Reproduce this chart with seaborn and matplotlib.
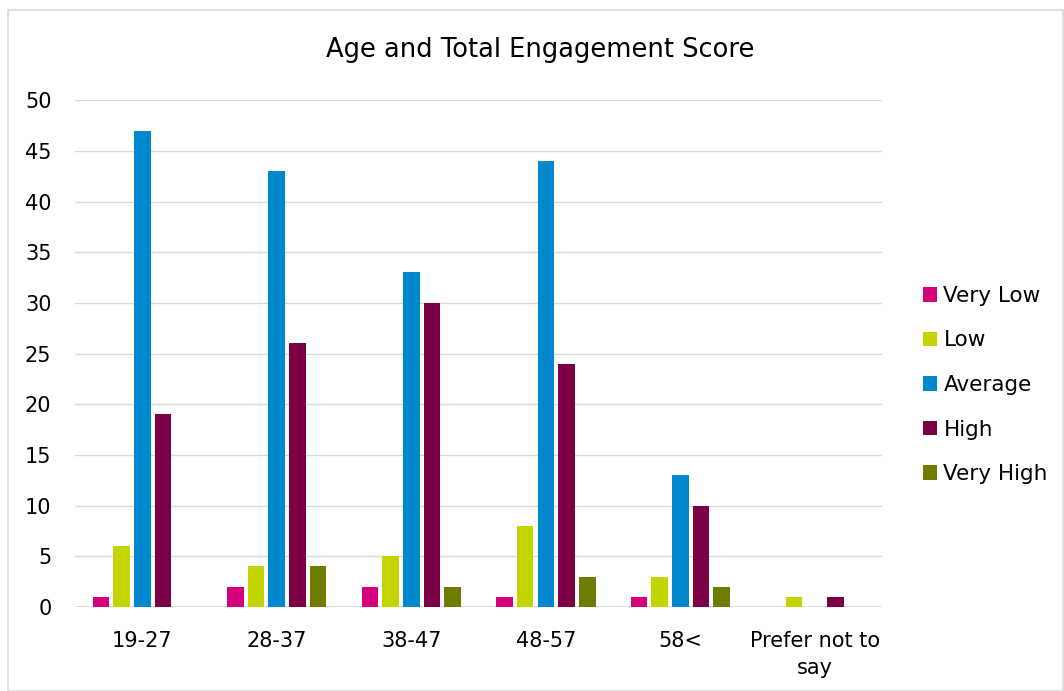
import matplotlib
matplotlib.use("Agg")
import matplotlib.pyplot as plt
import seaborn as sns
import pandas as pd
from matplotlib.patches import Rectangle

# Engagement counts per age band
age_groups = ["19-27", "28-37", "38-47", "48-57", "58<", "Prefer not to\nsay"]
levels = ["Very Low", "Low", "Average", "High", "Very High"]
very_low = [1, 2, 2, 1, 1, 0]
low = [6, 4, 5, 8, 3, 1]
average = [47, 43, 33, 44, 13, 0]
high = [19, 26, 30, 24, 10, 1]
very_high = [0, 4, 2, 3, 2, 0]
colors = ["#D6007D", "#C3D500", "#0088CE", "#7B0046", "#6F7C00"]

series = [very_low, low, average, high, very_high]
rows = []
for lvl, vals in zip(levels, series):
    for g, v in zip(age_groups, vals):
        rows.append({"Age": g, "Level": lvl, "Count": v})
df = pd.DataFrame(rows)

sns.set_theme(style="white")
plt.rcParams["font.family"] = ["DejaVu Sans"]

fig = plt.figure(figsize=(10.64, 6.91), dpi=100)
ax = fig.add_axes([0.0705, 0.1216, 0.7585, 0.7334])

sns.barplot(data=df, x="Age", y="Count", hue="Level", order=age_groups,
            hue_order=levels, palette=colors, width=0.77, gap=0.2,
            linewidth=0, saturation=1, ax=ax, legend=True)

ax.set_ylim(0, 50)
ax.set_yticks(range(0, 51, 5))
ax.set_xlim(-0.5, len(age_groups) - 0.5)
ax.yaxis.grid(True, color="#D9D9D9", linewidth=1)
ax.set_axisbelow(True)
for s in ax.spines.values():
    s.set_visible(False)
ax.axhline(0, color="#D9D9D9", linewidth=1.2, zorder=0.5)
ax.set_xlabel("")
ax.set_ylabel("")
ax.tick_params(axis="both", length=0, labelsize=15, colors="black")
ax.tick_params(axis="x", pad=17)
ax.tick_params(axis="y", pad=17)
for lab in ax.get_xticklabels():
    lab.set_linespacing(1.45)

fig.text(540 / 1064, 1 - 50 / 691, "Age and Total Engagement Score",
         ha="center", va="center", fontsize=18.5, color="black")

leg = ax.legend(loc="center left", bbox_to_anchor=(1.04, 0.438), frameon=False,
                fontsize=15.5, handlelength=0.65, handleheight=0.65,
                handletextpad=0.3, labelspacing=1.14, borderaxespad=0)
for t in leg.get_texts():
    t.set_color("black")

fig.patches.append(Rectangle((8 / 1064, 0), 1 - 8 / 1064 - 0.001, 1 - 10 / 691,
                             transform=fig.transFigure, fill=False,
                             edgecolor="#D9D9D9", linewidth=1.2))

fig.savefig("out.png", dpi=100)
